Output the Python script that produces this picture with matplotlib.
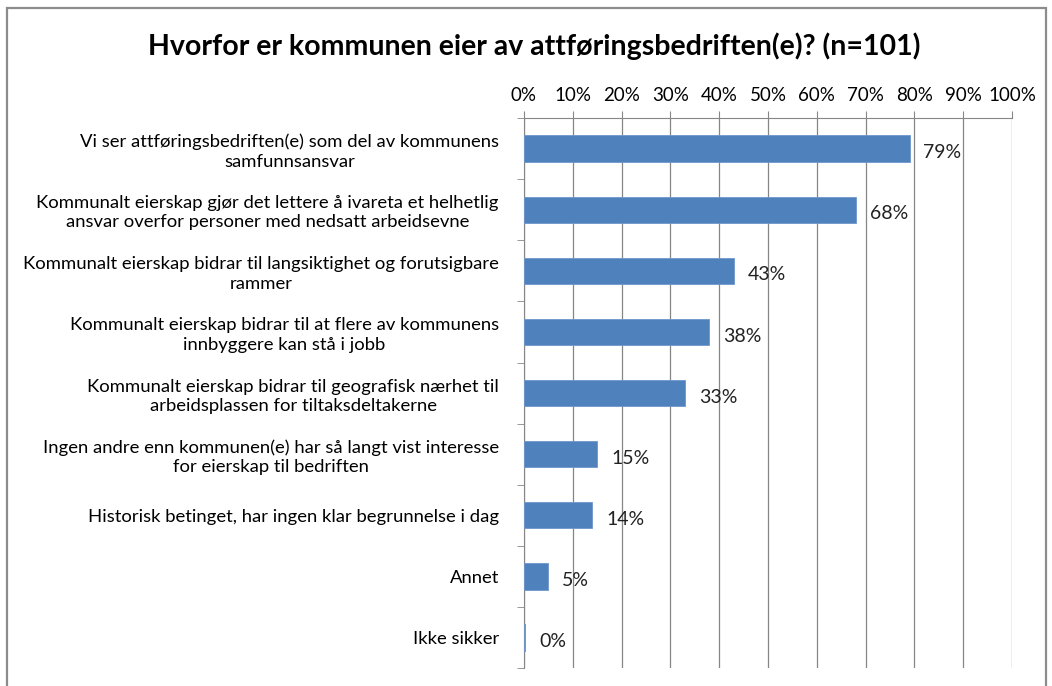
import matplotlib.pyplot as plt
from matplotlib.patches import Rectangle
from matplotlib.ticker import FixedLocator

plt.rcParams['font.family'] = ['Lato', 'DejaVu Sans']

categories = [
    "Vi ser attføringsbedriften(e) som del av kommunens\nsamfunnsansvar",
    "Kommunalt eierskap gjør det lettere å ivareta et helhetlig\nansvar overfor personer med nedsatt arbeidsevne",
    "Kommunalt eierskap bidrar til langsiktighet og forutsigbare\nrammer",
    "Kommunalt eierskap bidrar til at flere av kommunens\ninnbyggere kan stå i jobb",
    "Kommunalt eierskap bidrar til geografisk nærhet til\narbeidsplassen for tiltaksdeltakerne",
    "Ingen andre enn kommunen(e) har så langt vist interesse\nfor eierskap til bedriften",
    "Historisk betinget, har ingen klar begrunnelse i dag",
    "Annet",
    "Ikke sikker",
]
values = [79, 68, 43, 38, 33, 15, 14, 5, 0.3]
value_labels = ["79%", "68%", "43%", "38%", "33%", "15%", "14%", "5%", "0%"]
ticks = list(range(0, 101, 10))

fig = plt.figure(figsize=(10.52, 6.86), dpi=100)
ax = fig.add_axes([0.498, 0.026, 0.464, 0.802])

y = list(range(len(categories)))
ax.barh(y, values, height=0.43, color='#4F81BD', edgecolor='#6E97CC', linewidth=0.6, zorder=3)
ax.set_ylim(len(categories) - 0.5, -0.5)
ax.set_xlim(0, 100)

for yi, v, lab in zip(y, values, value_labels):
    ax.annotate(lab, (v, yi), xytext=(10, -3), textcoords='offset points',
                va='center', ha='left', fontsize=14, color='#222222', zorder=4)

ax.xaxis.tick_top()
ax.set_xticks(ticks)
ax.set_xticklabels([f"{t}%" for t in ticks], fontsize=13.5)
ax.tick_params(axis='x', direction='out', length=5, color='#868686', pad=5)
ax.grid(axis='x', color='#868686', linewidth=0.9, zorder=0)

ax.set_yticks(y)
ax.set_yticklabels(categories, fontsize=13.3, linespacing=1.25)
for t in ax.get_yticklabels():
    t.set_multialignment('center')
ax.tick_params(axis='y', which='major', length=0, pad=18)
ax.yaxis.set_minor_locator(FixedLocator([i - 0.5 for i in range(len(categories) + 1)]))
ax.tick_params(axis='y', which='minor', length=5, color='#868686', direction='out')

for s in ['right', 'bottom']:
    ax.spines[s].set_visible(False)
ax.spines['top'].set_color('#868686')
ax.spines['left'].set_color('#868686')

fig.text(0.508, 0.932, "Hvorfor er kommunen eier av attføringsbedriften(e)? (n=101)",
         ha='center', va='center', fontsize=20.5, fontweight='bold')

fig.patches.append(Rectangle((0.007, -0.02), 0.987, 1.008, transform=fig.transFigure,
                             fill=False, edgecolor='#8C8C8C', linewidth=1.6))

fig.savefig('out.png', dpi=100)
